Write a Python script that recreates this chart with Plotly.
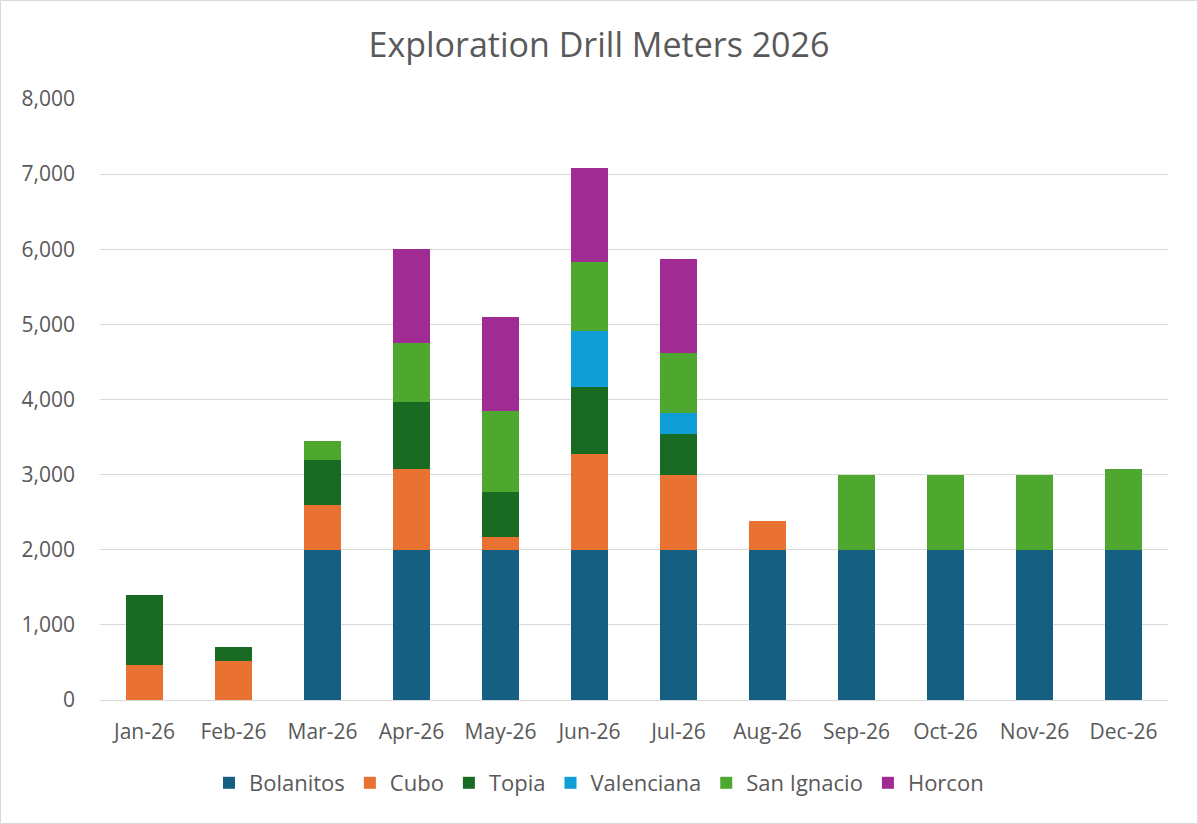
import plotly.graph_objects as go

months = ["Jan-26", "Feb-26", "Mar-26", "Apr-26", "May-26", "Jun-26",
          "Jul-26", "Aug-26", "Sep-26", "Oct-26", "Nov-26", "Dec-26"]

bolanitos   = [0, 0, 2000, 2000, 2000, 2000, 2000, 2000, 2000, 2000, 2000, 2000]
cubo        = [460, 520, 600, 1075, 175, 1270, 1000, 380, 0, 0, 0, 0]
topia       = [935, 180, 600, 890, 600, 900, 540, 0, 0, 0, 0, 0]
valenciana  = [0, 0, 0, 0, 0, 745, 280, 0, 0, 0, 0, 0]
san_ignacio = [0, 0, 250, 785, 1075, 915, 800, 0, 1000, 1000, 1000, 1070]
horcon      = [0, 0, 0, 1250, 1250, 1250, 1250, 0, 0, 0, 0, 0]

series = [
    ("Bolanitos", bolanitos, "#156082"),
    ("Cubo", cubo, "#E97132"),
    ("Topia", topia, "#196B24"),
    ("Valenciana", valenciana, "#0F9ED5"),
    ("San Ignacio", san_ignacio, "#4EA72E"),
    ("Horcon", horcon, "#A02B93"),
]

FONT = "Open Sans, Lato, sans-serif"
GREY = "#595959"

fig = go.Figure()
for name, vals, color in series:
    fig.add_trace(go.Bar(
        name=name, x=months, y=vals,
        marker=dict(color=color, line=dict(width=0)),
    ))

L, R, T, B = 100, 30, 99, 124
W, H = 1198, 824
pw, ph = W - L - R, H - T - B

fig.update_layout(
    width=W, height=H,
    barmode="stack",
    bargap=0.595,
    paper_bgcolor="white",
    plot_bgcolor="white",
    margin=dict(l=L, r=R, t=T, b=B, pad=0),
    font=dict(family=FONT, color=GREY, size=21),
    title=dict(text="Exploration Drill Meters 2026", x=0.5, xanchor="center",
               y=1 - 45 / H, yanchor="middle",
               font=dict(family=FONT, size=34, color=GREY)),
    xaxis=dict(showgrid=False, showline=True, linecolor="#D9D9D9", linewidth=1.3,
               ticks="", tickfont=dict(size=21, color=GREY), ticklabelstandoff=13),
    yaxis=dict(range=[0, 8000], dtick=1000, tickformat=",d", showgrid=True,
               gridcolor="#D9D9D9", gridwidth=1.3, zeroline=False, showline=False,
               ticks="", tickfont=dict(size=21, color=GREY), ticklabelstandoff=24),
    legend=dict(orientation="h", x=(W / 2 - L) / pw, xanchor="center",
                y=-(783 - 700) / ph, yanchor="middle",
                font=dict(size=22, color=GREY),
                traceorder="normal", itemwidth=30),
    shapes=[dict(type="rect", xref="paper", yref="paper",
                 x0=(0.5 - L) / pw, x1=(W - 0.5 - L) / pw,
                 y0=-(H - 0.5 - (H - B)) / ph, y1=((H - B) - 0.5) / ph,
                 line=dict(color="#D9D9D9", width=1), fillcolor="rgba(0,0,0,0)",
                 layer="below")],
)

fig.write_html("out.html", config={"displayModeBar": False},
               post_script="document.body.style.margin='0';document.body.style.padding='0';")
